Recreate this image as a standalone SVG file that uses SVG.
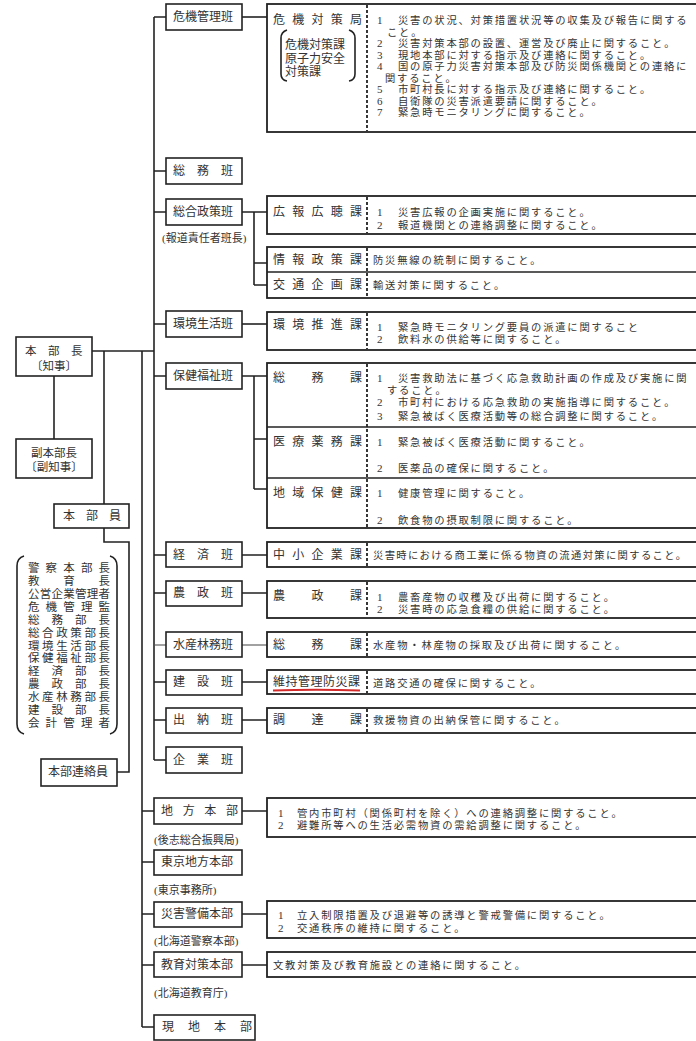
<svg xmlns="http://www.w3.org/2000/svg" width="696" height="1041" viewBox="0 0 696 1041">
<style>
.ln{stroke:#222;stroke-width:1.6;fill:none}
.bx{fill:#fff;stroke:#222;stroke-width:1.6}
.wb{fill:#fff;stroke:#222;stroke-width:1.8}
.dv{stroke:#222;stroke-width:1.4}
.sep{stroke:#222;stroke-width:1.8;stroke-dasharray:3 2;fill:none}
text{font-family:"Liberation Serif","Noto Sans CJK JP",serif;fill:#333;dominant-baseline:central}
.l{font-size:12px}
.d{font-size:10.3px;letter-spacing:1.8px}
.n{font-size:11px;letter-spacing:0}
.s{font-size:11.5px}
</style>

<g id="connectors">
  <path class="ln" d="M92 351 H154"/>
  <path class="ln" d="M54 376 V439"/>
  <path class="ln" d="M104 351 V504"/>
  <path class="ln" d="M104 528 V542 H129 V772 H117"/>
  <path class="ln" d="M154 17 V760"/>
  <path class="ln" d="M142 351 V1027"/>
  <path class="ln" d="M154 17 H166 M154 171 H166 M154 212 H166 M154 324 H166 M154 376 H166 M154 555 H166 M154 593 H166 M154 682 H166 M154 720 H166 M154 760 H166"/>
  <path stroke="#555" stroke-width="1.1" fill="none" d="M154 645 H166"/>
  <path class="ln" d="M142 811 H154 M142 862 H154 M142 914 H154 M142 965 H154 M142 1027 H154"/>
  <path class="ln" d="M242 17 H267"/>
  <path class="ln" d="M242 212 H267 M254 212 V285 M254 263 H267 M254 285 H267"/>
  <path class="ln" d="M242 324 H267"/>
  <path class="ln" d="M242 376 H267 M254 376 V489 M254 439 H267 M254 489 H267"/>
  <path class="ln" d="M242 555 H267 M242 593 H267 M242 682 H267 M242 720 H267"/>
  <path stroke="#555" stroke-width="1.1" fill="none" d="M242 645 H267"/>
  <path class="ln" d="M242 811 H267 M242 914 H267 M242 965 H267"/>
</g>

<g id="honbucho">
  <rect class="bx" x="16" y="337" width="76" height="39"/>
  <text class="s"><tspan x="25 48 71" y="351">本部長</tspan><tspan x="54" y="366" text-anchor="middle">〔知事〕</tspan></text>
</g>
<g id="fukuhonbucho">
  <rect class="bx" x="16" y="439" width="76" height="39"/>
  <text class="s" text-anchor="middle"><tspan x="54" y="453">副本部長</tspan><tspan x="54" y="467">〔副知事〕</tspan></text>
</g>
<g id="honbuin">
  <rect class="bx" x="54" y="504" width="75" height="24"/>
  <text class="l" x="63 86 109" y="516">本部員</text>
</g>
<g id="members">
  <path class="ln" d="M24 556 Q17 558 17 566 L17 724 Q17 732 24 734"/>
  <path class="ln" d="M110 556 Q117 558 117 566 L117 724 Q117 732 110 734"/>
  <text class="s">
    <tspan x="28 45.6 63.3 80.9 98.5" y="568">警察本部長</tspan>
    <tspan x="28 63.3 98.5" y="580.9">教育長</tspan>
    <tspan x="28 39.75 51.5 63.25 75 86.75 98.5" y="593.8">公営企業管理者</tspan>
    <tspan x="28 45.6 63.3 80.9 98.5" y="606.75">危機管理監</tspan>
    <tspan x="28 51.5 75 98.5" y="619.7">総務部長</tspan>
    <tspan x="28 42.1 56.2 70.3 84.4 98.5" y="632.6">総合政策部長</tspan>
    <tspan x="28 42.1 56.2 70.3 84.4 98.5" y="645.5">環境生活部長</tspan>
    <tspan x="28 42.1 56.2 70.3 84.4 98.5" y="658.4">保健福祉部長</tspan>
    <tspan x="28 51.5 75 98.5" y="671.3">経済部長</tspan>
    <tspan x="28 51.5 75 98.5" y="684.25">農政部長</tspan>
    <tspan x="28 42.1 56.2 70.3 84.4 98.5" y="697.2">水産林務部長</tspan>
    <tspan x="28 51.5 75 98.5" y="710.1">建設部長</tspan>
    <tspan x="28 45.6 63.3 80.9 98.5" y="723">会計管理者</tspan>
  </text>
</g>
<g id="renrakuin">
  <rect class="bx" x="41" y="759" width="76" height="27"/>
  <text class="l" x="48" y="772">本部連絡員</text>
</g>

<g id="kikikanri-han"><rect class="bx" x="166" y="4" width="76" height="26"/><text class="l" x="173" y="17">危機管理班</text></g>
<g id="somu-han"><rect class="bx" x="166" y="158" width="76" height="26"/><text class="l" x="173 197 221" y="171">総務班</text></g>
<g id="sogoseisaku-han"><rect class="bx" x="166" y="199" width="76" height="26"/><text class="l" x="173" y="212">総合政策班</text><text class="n" x="162" y="238">(報道責任者班長)</text></g>
<g id="kankyo-han"><rect class="bx" x="166" y="311" width="76" height="26"/><text class="l" x="173" y="324">環境生活班</text></g>
<g id="hoken-han"><rect class="bx" x="166" y="363" width="76" height="26"/><text class="l" x="173" y="376">保健福祉班</text></g>
<g id="keizai-han"><rect class="bx" x="166" y="542" width="76" height="25"/><text class="l" x="173 197 221" y="555">経済班</text></g>
<g id="nosei-han"><rect class="bx" x="166" y="581" width="76" height="25"/><text class="l" x="173 197 221" y="593">農政班</text></g>
<g id="suisan-han"><rect class="bx" x="166" y="632" width="76" height="25"/><text class="l" x="173" y="645">水産林務班</text></g>
<g id="kensetsu-han"><rect class="bx" x="166" y="670" width="76" height="25"/><text class="l" x="173 197 221" y="682">建設班</text></g>
<g id="suito-han"><rect class="bx" x="166" y="708" width="76" height="25"/><text class="l" x="173 197 221" y="720">出納班</text></g>
<g id="kigyo-han"><rect class="bx" x="166" y="747" width="76" height="26"/><text class="l" x="173 197 221" y="760">企業班</text></g>

<g id="chiho-honbu"><rect class="bx" x="154" y="798" width="88" height="26"/><text class="l" x="161 182.7 204.3 226" y="811">地方本部</text><text class="n" x="154" y="840">(後志総合振興局)</text></g>
<g id="tokyo-honbu"><rect class="bx" x="154" y="850" width="88" height="25"/><text class="l" x="161" y="862">東京地方本部</text><text class="n" x="154" y="890">(東京事務所)</text></g>
<g id="saigaikeibi-honbu"><rect class="bx" x="154" y="902" width="88" height="25"/><text class="l" x="161" y="914">災害警備本部</text><text class="n" x="154" y="941">(北海道警察本部)</text></g>
<g id="kyoiku-honbu"><rect class="bx" x="154" y="952" width="88" height="25"/><text class="l" x="161" y="965">教育対策本部</text><text class="n" x="154" y="993">(北海道教育庁)</text></g>
<g id="genchi-honbu"><rect class="bx" x="154" y="1015" width="101" height="25"/><text class="l" x="162 188 214 240" y="1027">現地本部</text></g>

<g id="kikitaisaku-kyoku">
  <rect class="wb" x="267" y="4" width="432" height="128"/>
  <line class="sep" x1="367" y1="5" x2="367" y2="131"/>
  <path class="ln" d="M287 30 Q281 32 281 38 L281 74 Q281 80 287 81"/>
  <path class="ln" d="M349 30 Q355 32 355 38 L355 74 Q355 80 349 81"/>
  <text class="l"><tspan x="273 292.25 311.5 330.75 350" y="20">危機対策局</tspan><tspan x="285" y="45">危機対策課</tspan><tspan x="285" y="58.7">原子力安全</tspan><tspan x="285" y="72.4">対策課</tspan></text>
  <text class="d">
    <tspan class="n" x="377" y="20">1</tspan><tspan x="398" y="20">災害の状況、対策措置状況等の収集及び報告に関する</tspan>
    <tspan x="387" y="31.5">こと。</tspan>
    <tspan class="n" x="377" y="43">2</tspan><tspan x="398" y="43">災害対策本部の設置、運営及び廃止に関すること。</tspan>
    <tspan class="n" x="377" y="54.5">3</tspan><tspan x="398" y="54.5">現地本部に対する指示及び連絡に関すること。</tspan>
    <tspan class="n" x="377" y="66">4</tspan><tspan x="398" y="66">国の原子力災害対策本部及び防災関係機関との連絡に</tspan>
    <tspan x="385" y="77.5">関すること。</tspan>
    <tspan class="n" x="377" y="89">5</tspan><tspan x="398" y="89">市町村長に対する指示及び連絡に関すること。</tspan>
    <tspan class="n" x="377" y="100.5">6</tspan><tspan x="398" y="100.5">自衛隊の災害派遣要請に関すること。</tspan>
    <tspan class="n" x="377" y="112">7</tspan><tspan x="398" y="112">緊急時モニタリングに関すること。</tspan>
  </text>
</g>

<g id="kohokocho-ka">
  <rect class="wb" x="267" y="196" width="432" height="38"/>
  <line class="sep" x1="367" y1="197" x2="367" y2="233"/>
  <text class="l" x="273 292.25 311.5 330.75 350" y="212">広報広聴課</text>
  <text class="d">
    <tspan class="n" x="377" y="212">1</tspan><tspan x="398" y="212">災害広報の企画実施に関すること。</tspan>
    <tspan class="n" x="377" y="225">2</tspan><tspan x="398" y="225">報道機関との連絡調整に関すること。</tspan>
  </text>
</g>

<g id="johoseisaku-kotsukikaku">
  <rect class="wb" x="267" y="247" width="432" height="51"/>
  <line class="dv" x1="267" y1="272" x2="699" y2="272"/>
  <line class="sep" x1="367" y1="248" x2="367" y2="297"/>
  <text class="l" x="273 292.25 311.5 330.75 350" y="260">情報政策課</text>
  <text class="d" x="373" y="260">防災無線の統制に関すること。</text>
  <text class="l" x="273 292.25 311.5 330.75 350" y="285">交通企画課</text>
  <text class="d" x="373" y="285">輸送対策に関すること。</text>
</g>

<g id="kankyosuishin-ka">
  <rect class="wb" x="267" y="312" width="432" height="38"/>
  <line class="sep" x1="367" y1="313" x2="367" y2="349"/>
  <text class="l" x="273 292.25 311.5 330.75 350" y="325">環境推進課</text>
  <text class="d">
    <tspan class="n" x="377" y="327">1</tspan><tspan x="398" y="327">緊急時モニタリング要員の派遣に関すること</tspan>
    <tspan class="n" x="377" y="339">2</tspan><tspan x="398" y="339">飲料水の供給等に関すること。</tspan>
  </text>
</g>

<g id="hokenfukushi-ka">
  <rect class="wb" x="267" y="363" width="432" height="165"/>
  <line class="dv" x1="267" y1="427" x2="699" y2="427"/>
  <line class="dv" x1="267" y1="478" x2="699" y2="478"/>
  <line class="sep" x1="367" y1="364" x2="367" y2="527"/>
  <text class="l" x="273 311.5 350" y="378">総務課</text>
  <text class="d">
    <tspan class="n" x="377" y="378">1</tspan><tspan x="398" y="378">災害救助法に基づく応急救助計画の作成及び実施に関</tspan>
    <tspan x="387" y="390">すること。</tspan>
    <tspan class="n" x="377" y="402">2</tspan><tspan x="398" y="402">市町村における応急救助の実施指導に関すること。</tspan>
    <tspan class="n" x="377" y="416">3</tspan><tspan x="398" y="416">緊急被ばく医療活動等の総合調整に関すること。</tspan>
  </text>
  <text class="l" x="273 292.25 311.5 330.75 350" y="442">医療薬務課</text>
  <text class="d">
    <tspan class="n" x="377" y="442">1</tspan><tspan x="398" y="442">緊急被ばく医療活動に関すること。</tspan>
    <tspan class="n" x="377" y="468">2</tspan><tspan x="398" y="468">医薬品の確保に関すること。</tspan>
  </text>
  <text class="l" x="273 292.25 311.5 330.75 350" y="493">地域保健課</text>
  <text class="d">
    <tspan class="n" x="377" y="493">1</tspan><tspan x="398" y="493">健康管理に関すること。</tspan>
    <tspan class="n" x="377" y="520">2</tspan><tspan x="398" y="520">飲食物の摂取制限に関すること。</tspan>
  </text>
</g>

<g id="chushokigyo-ka">
  <rect class="wb" x="267" y="542" width="432" height="25"/>
  <line class="sep" x1="367" y1="543" x2="367" y2="566"/>
  <text class="l" x="273 292.25 311.5 330.75 350" y="555">中小企業課</text>
  <text class="d" x="373" y="555" style="letter-spacing:1.35px">災害時における商工業に係る物資の流通対策に関すること。</text>
</g>

<g id="nosei-ka">
  <rect class="wb" x="267" y="581" width="432" height="37"/>
  <line class="sep" x1="367" y1="582" x2="367" y2="617"/>
  <text class="l" x="273 311.5 350" y="596">農政課</text>
  <text class="d">
    <tspan class="n" x="377" y="597">1</tspan><tspan x="398" y="597">農畜産物の収穫及び出荷に関すること。</tspan>
    <tspan class="n" x="377" y="609">2</tspan><tspan x="398" y="609">災害時の応急食糧の供給に関すること。</tspan>
  </text>
</g>

<g id="suisan-somu-ka">
  <rect class="wb" x="267" y="632" width="432" height="25"/>
  <line class="sep" x1="367" y1="633" x2="367" y2="656"/>
  <text class="l" x="273 311.5 350" y="645">総務課</text>
  <text class="d" x="373" y="645">水産物・林産物の採取及び出荷に関すること。</text>
</g>

<g id="ijikanribosai-ka">
  <rect class="wb" x="267" y="670" width="432" height="24"/>
  <line class="sep" x1="367" y1="671" x2="367" y2="693"/>
  <text class="l" x="273" y="682" style="letter-spacing:0.5px">維持管理防災課</text>
  <path d="M273 690.5 Q316 689 360 690.5" stroke="#d42a2a" stroke-width="2" fill="none"/>
  <text class="d" x="373" y="683">道路交通の確保に関すること。</text>
</g>

<g id="chotatsu-ka">
  <rect class="wb" x="267" y="708" width="432" height="25"/>
  <line class="sep" x1="367" y1="709" x2="367" y2="732"/>
  <text class="l" x="273 311.5 350" y="720">調達課</text>
  <text class="d" x="373" y="720">救援物資の出納保管に関すること。</text>
</g>

<g id="chiho-honbu-duties">
  <rect class="wb" x="267" y="798" width="432" height="39"/>
  <text class="d">
    <tspan class="n" x="278" y="813">1</tspan><tspan x="297" y="813">管内市町村（関係町村を除く）への連絡調整に関すること。</tspan>
    <tspan class="n" x="278" y="825">2</tspan><tspan x="297" y="825">避難所等への生活必需物資の需給調整に関すること。</tspan>
  </text>
</g>

<g id="saigaikeibi-duties">
  <rect class="wb" x="267" y="901" width="432" height="37"/>
  <text class="d">
    <tspan class="n" x="278" y="915">1</tspan><tspan x="297" y="915">立入制限措置及び退避等の誘導と警戒警備に関すること。</tspan>
    <tspan class="n" x="278" y="928">2</tspan><tspan x="297" y="928">交通秩序の維持に関すること。</tspan>
  </text>
</g>

<g id="kyoiku-duties">
  <rect class="wb" x="267" y="952" width="432" height="25"/>
  <text class="d" x="273" y="965">文教対策及び教育施設との連絡に関すること。</text>
</g>
</svg>
